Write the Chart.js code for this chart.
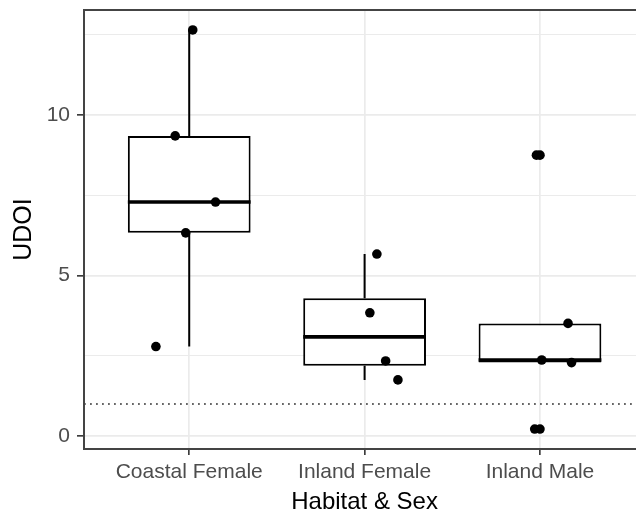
<!DOCTYPE html>
<html>
<head>
<meta charset="utf-8">
<script src="https://cdn.jsdelivr.net/npm/chart.js@4"></script>
<style>
  html, body { margin: 0; padding: 0; background: #fff; overflow: hidden; }
  #wrap { width: 650px; height: 516px; position: relative; }
</style>
</head>
<body>
<div id="wrap"><canvas id="udoiChart"></canvas></div>
<script>
// groups on the x axis
const groups = ['Coastal Female', 'Inland Female', 'Inland Male'];

// UDOI values per group
const coastalFemale = [2.79, 6.33, 7.29, 9.35, 12.65];
const inlandFemale = [1.75, 2.34, 3.84, 5.67];
const inlandMale = [0.22, 2.29, 2.37, 3.51, 8.75];

// horizontal jitter of each point (in group widths)
const coastalFemaleJitter = [-0.19, -0.02, 0.15, -0.08, 0.02];
const inlandFemaleJitter = [0.19, 0.12, 0.03, 0.07];
const inlandMaleJitter = [-0.03, 0.18, 0.01, 0.16, -0.02];

const yMajorTicks = [0, 5, 10];
const yMinorTicks = [2.5, 7.5, 12.5];
const refLine = 1;

const values = [coastalFemale, inlandFemale, inlandMale];
const jitters = [coastalFemaleJitter, inlandFemaleJitter, inlandMaleJitter];

// quantile, same as R type 7
function quantile(arr, p) {
  const s = arr.slice().sort((a, b) => a - b);
  const h = (s.length - 1) * p;
  const lo = Math.floor(h);
  const hi = Math.ceil(h);
  return s[lo] + (h - lo) * (s[hi] - s[lo]);
}

const stats = values.map(function(v) {
  const q1 = quantile(v, 0.25), med = quantile(v, 0.5), q3 = quantile(v, 0.75);
  const iqr = q3 - q1;
  const inside = v.filter(d => d >= q1 - 1.5 * iqr && d <= q3 + 1.5 * iqr);
  return {
    q1: q1, med: med, q3: q3,
    lo: Math.min.apply(null, inside),
    hi: Math.max.apply(null, inside),
    out: v.filter(d => d < q1 - 1.5 * iqr || d > q3 + 1.5 * iqr)
  };
});

const boxData = stats.map((s, i) => ({ x: i + 1, y: [s.q1, s.q3] }));
let pointData = [];
values.forEach(function(v, i) {
  v.forEach(function(d, j) { pointData.push({ x: i + 1 + jitters[i][j], y: d }); });
});
let outlierData = [];
stats.forEach(function(s, i) {
  s.out.forEach(function(d) { outlierData.push({ x: i + 1, y: d }); });
});

// y limits padded 5% like ggplot
const all = [].concat(coastalFemale, inlandFemale, inlandMale);
const dMin = Math.min.apply(null, all), dMax = Math.max.apply(null, all);
const yMin = dMin - 0.05 * (dMax - dMin);
const yMax = dMax + 0.05 * (dMax - dMin);

const FONT = 'Liberation Sans, Arial, sans-serif';

// whiskers, dotted reference line, medians and panel border
const boxPlotExtras = {
  id: 'boxPlotExtras',
  beforeDatasetsDraw(chart) {
    const ctx = chart.ctx, x = chart.scales.x, y = chart.scales.y, area = chart.chartArea;
    ctx.save();
    ctx.strokeStyle = '#000';
    ctx.lineWidth = 2;
    stats.forEach(function(s, i) {
      const px = x.getPixelForValue(i + 1);
      ctx.beginPath();
      ctx.moveTo(px, y.getPixelForValue(s.q3));
      ctx.lineTo(px, y.getPixelForValue(s.hi));
      ctx.moveTo(px, y.getPixelForValue(s.q1));
      ctx.lineTo(px, y.getPixelForValue(s.lo));
      ctx.stroke();
    });
    // reference line
    const ry = y.getPixelForValue(refLine);
    ctx.strokeStyle = '#666';
    ctx.lineWidth = 1.8;
    ctx.setLineDash([1.8, 4.2]);
    ctx.beginPath();
    ctx.moveTo(area.left, ry);
    ctx.lineTo(area.right, ry);
    ctx.stroke();
    ctx.restore();
  },
  afterDatasetDraw(chart, args) {
    if (args.index !== 0) return;
    const ctx = chart.ctx, y = chart.scales.y;
    const bars = chart.getDatasetMeta(0).data;
    ctx.save();
    ctx.strokeStyle = '#000';
    ctx.lineWidth = 3.6;
    stats.forEach(function(s, i) {
      const b = bars[i];
      const py = y.getPixelForValue(s.med);
      ctx.beginPath();
      ctx.moveTo(b.x - b.width / 2, py);
      ctx.lineTo(b.x + b.width / 2, py);
      ctx.stroke();
    });
    ctx.restore();
  },
  afterDatasetsDraw(chart) {
    const ctx = chart.ctx, a = chart.chartArea;
    ctx.save();
    ctx.strokeStyle = '#444';
    ctx.lineWidth = 2;
    ctx.strokeRect(a.left, a.top, a.right - a.left, a.bottom - a.top);
    ctx.restore();
  }
};

const chart = new Chart(document.getElementById('udoiChart'), {
  type: 'bar',
  data: {
    datasets: [{
      type: 'bar',
      data: boxData,
      backgroundColor: '#fff',
      borderColor: '#000',
      borderWidth: 2,
      borderSkipped: false,
      barPercentage: 0.7,
      categoryPercentage: 1,
      order: 2
    }, {
      type: 'scatter',
      data: pointData,
      pointRadius: 4.8,
      pointBackgroundColor: '#000',
      pointBorderWidth: 0,
      order: 1
    }, {
      type: 'scatter',
      data: outlierData,
      pointRadius: 4.8,
      pointBackgroundColor: '#000',
      pointBorderWidth: 0,
      order: 1
    }]
  },
  options: {
    responsive: true,
    maintainAspectRatio: false,
    animation: false,
    events: [],
    layout: { padding: { top: 10, right: 4.4, left: 0, bottom: 0 } },
    plugins: {
      legend: { display: false },
      tooltip: { enabled: false }
    },
    scales: {
      x: {
        type: 'linear',
        min: 0.4,
        max: 3.6,
        offset: false,
        afterBuildTicks: function(scale) {
          scale.ticks = groups.map((g, i) => ({ value: i + 1 }));
        },
        afterFit: function(scale) {
          scale.height = 67;
          scale.paddingLeft = 0;
          scale.paddingRight = 0;
        },
        border: { display: false },
        grid: {
          offset: false,
          color: '#EBEBEB',
          lineWidth: 1.7,
          drawTicks: true,
          tickLength: 6,
          tickColor: '#333',
          tickWidth: 1.6
        },
        ticks: {
          autoSkip: false,
          maxRotation: 0,
          padding: 5,
          color: '#4D4D4D',
          font: { family: FONT, size: 21 },
          callback: function(value) { return groups[value - 1]; }
        },
        title: {
          display: true,
          text: 'Habitat & Sex',
          color: '#000',
          font: { family: FONT, size: 24, lineHeight: 1 },
          padding: { top: 0, bottom: 2 }
        }
      },
      y: {
        min: yMin,
        max: yMax,
        afterBuildTicks: function(scale) {
          scale.ticks = yMajorTicks.concat(yMinorTicks).sort((a, b) => a - b).map(v => ({ value: v }));
        },
        afterFit: function(scale) {
          scale.width = 84;
          scale.paddingTop = 0;
          scale.paddingBottom = 0;
        },
        border: { display: false },
        grid: {
          color: '#EBEBEB',
          lineWidth: ctx => yMajorTicks.includes(ctx.tick.value) ? 1.7 : 1.1,
          drawTicks: true,
          tickLength: 7,
          tickColor: ctx => yMajorTicks.includes(ctx.tick.value) ? '#333' : 'rgba(0,0,0,0)',
          tickWidth: 1.6
        },
        ticks: {
          autoSkip: false,
          padding: 7,
          color: '#4D4D4D',
          font: { family: FONT, size: 21 },
          callback: function(value) { return yMajorTicks.includes(value) ? String(value) : ''; }
        },
        title: {
          display: true,
          text: 'UDOI',
          color: '#000',
          font: { family: FONT, size: 25, lineHeight: 1 },
          padding: { top: 11.5, bottom: 0 }
        }
      }
    }
  },
  plugins: [boxPlotExtras]
});
</script>
</body>
</html>
